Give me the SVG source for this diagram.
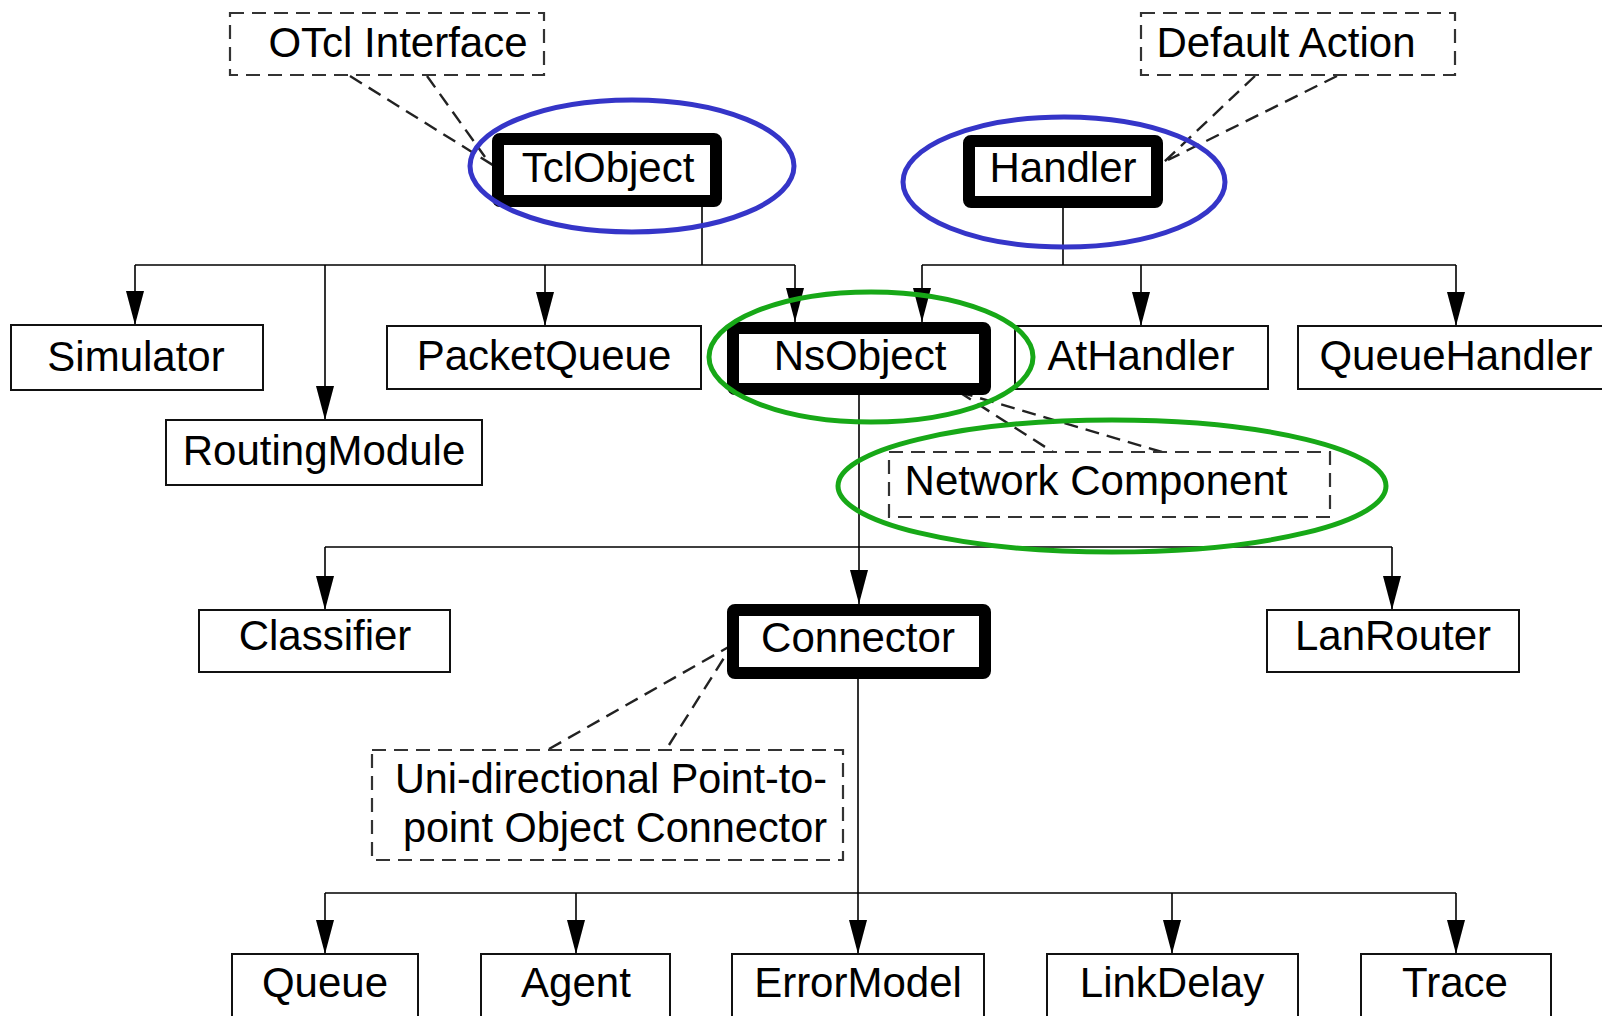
<svg xmlns="http://www.w3.org/2000/svg" width="1602" height="1016" viewBox="0 0 1602 1016">
<style>
text{font-family:"Liberation Sans",Arial,sans-serif;font-size:42px;fill:#000;text-anchor:middle}
.box{fill:#fff;stroke:#111;stroke-width:2}
.thick{fill:#fff;stroke:#000;stroke-width:12}
.note{fill:#fff;stroke:#333;stroke-width:2.2;stroke-dasharray:14 8}
.dl{fill:none;stroke:#222;stroke-width:2.4;stroke-dasharray:14 8}
.ln{fill:none;stroke:#000;stroke-width:1.6}
.ar{fill:none;stroke:#000;stroke-width:1.6;marker-end:url(#arr)}
.blue{fill:none;stroke:#3535c8;stroke-width:5}
.green{fill:none;stroke:#17a817;stroke-width:5}
</style>
<defs>
<marker id="arr" markerUnits="userSpaceOnUse" markerWidth="36" markerHeight="20" refX="34" refY="9" orient="auto">
<path d="M0,0 L34,9 L0,18 z" fill="#000"/>
</marker>
</defs>
<rect width="1602" height="1016" fill="#fff"/>

<g id="connectors">
<path class="ln" d="M702 207 V265 M135 265 H795"/>
<path class="ar" d="M135 265 V325"/>
<path class="ar" d="M325 265 V420"/>
<path class="ar" d="M545 265 V326"/>
<path class="ar" d="M795 265 V322"/>
<path class="ln" d="M1063 208 V265 M922 265 H1456"/>
<path class="ar" d="M922 265 V322"/>
<path class="ar" d="M1141 265 V326"/>
<path class="ar" d="M1456 265 V326"/>
<path class="ln" d="M859 395 V547 M325 547 H1392"/>
<path class="ar" d="M325 547 V610"/>
<path class="ar" d="M859 547 V604"/>
<path class="ar" d="M1392 547 V610"/>
<path class="ln" d="M858 679 V893 M325 893 H1456"/>
<path class="ar" d="M325 893 V954"/>
<path class="ar" d="M576 893 V954"/>
<path class="ar" d="M858 893 V954"/>
<path class="ar" d="M1172 893 V954"/>
<path class="ar" d="M1456 893 V954"/>
<path class="dl" d="M350 76 L496 167 M427 76 L485 157"/>
<path class="dl" d="M1255 76 L1163 163 M1337 76 L1168 160"/>
<path class="dl" d="M959 392 L1053 452 M959 392 L1162 452"/>
<path class="dl" d="M549 749 L732 645 M669 745 L729 650"/>
</g>

<g id="otcl"><rect class="note" x="230" y="13" width="314" height="62"/><text x="398" y="57">OTcl Interface</text></g>
<g id="default"><rect class="note" x="1141" y="13" width="314" height="62"/><text x="1286" y="57">Default Action</text></g>
<g id="tclobject"><rect class="thick" x="498" y="139" width="218" height="62" rx="2"/><text x="608" y="182">TclObject</text></g>
<g id="handler"><rect class="thick" x="969" y="141" width="188" height="61" rx="2"/><text x="1063" y="182">Handler</text></g>
<g id="simulator"><rect class="box" x="11" y="325" width="252" height="65"/><text x="136" y="371">Simulator</text></g>
<g id="routingmodule"><rect class="box" x="166" y="420" width="316" height="65"/><text x="324" y="465">RoutingModule</text></g>
<g id="packetqueue"><rect class="box" x="387" y="326" width="314" height="63"/><text x="544" y="370">PacketQueue</text></g>
<g id="nsobject"><rect class="thick" x="733" y="328" width="252" height="61" rx="2"/><text x="860" y="370">NsObject</text></g>
<g id="athandler"><rect class="box" x="1015" y="326" width="253" height="63"/><text x="1141" y="370">AtHandler</text></g>
<g id="queuehandler"><rect class="box" x="1298" y="326" width="320" height="63"/><text x="1456" y="370">QueueHandler</text></g>
<g id="network"><rect class="note" x="889" y="452" width="441" height="65"/><text x="1096" y="495">Network Component</text></g>
<g id="classifier"><rect class="box" x="199" y="610" width="251" height="62"/><text x="325" y="650">Classifier</text></g>
<g id="connector"><rect class="thick" x="733" y="610" width="252" height="63" rx="2"/><text x="858" y="652">Connector</text></g>
<g id="lanrouter"><rect class="box" x="1267" y="610" width="252" height="62"/><text x="1393" y="650">LanRouter</text></g>
<g id="unidir"><rect class="note" x="372" y="750" width="471" height="110"/><text x="395" y="793" style="text-anchor:start" textLength="432" lengthAdjust="spacingAndGlyphs">Uni-directional Point-to-</text><text x="403" y="842" style="text-anchor:start" textLength="424" lengthAdjust="spacingAndGlyphs">point Object Connector</text></g>
<g id="queue"><rect class="box" x="232" y="954" width="186" height="80"/><text x="325" y="997">Queue</text></g>
<g id="agent"><rect class="box" x="481" y="954" width="189" height="80"/><text x="576" y="997">Agent</text></g>
<g id="errormodel"><rect class="box" x="732" y="954" width="252" height="80"/><text x="858" y="997">ErrorModel</text></g>
<g id="linkdelay"><rect class="box" x="1047" y="954" width="251" height="80"/><text x="1172" y="997">LinkDelay</text></g>
<g id="trace"><rect class="box" x="1361" y="954" width="190" height="80"/><text x="1455" y="997">Trace</text></g>

<g id="highlights">
<ellipse class="blue" cx="632" cy="166" rx="162" ry="66"/>
<ellipse class="blue" cx="1064" cy="182" rx="161" ry="65"/>
<ellipse class="green" cx="871" cy="357" rx="162" ry="65"/>
<ellipse class="green" cx="1112" cy="486" rx="274" ry="66"/>
</g>
</svg>
